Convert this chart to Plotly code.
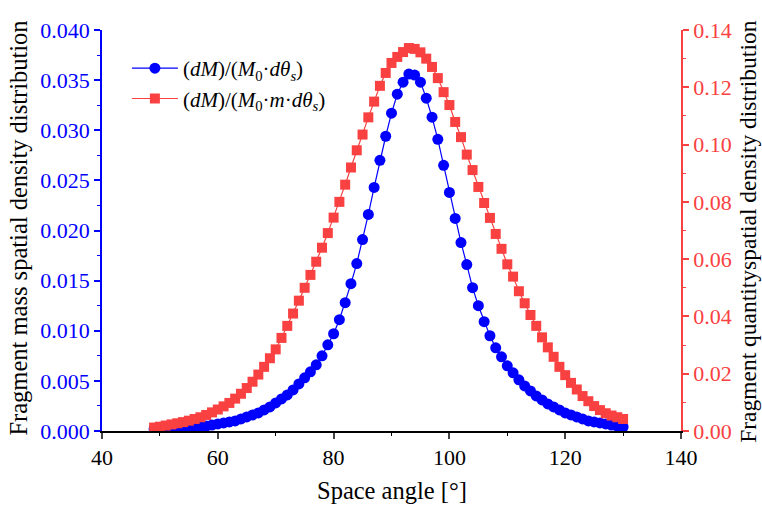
import plotly.graph_objects as go

# Space angle (degrees)
angle_mass = list(range(49, 131))
mass_density = [
    0.0002, 0.0002, 0.0002, 0.0003, 0.0003, 0.0003, 0.0004, 0.0004, 0.0005, 0.0005,   # 49-58
    0.0006, 0.0007, 0.0008, 0.0009, 0.0010, 0.0012, 0.0014, 0.0016, 0.0018, 0.0021,   # 59-68
    0.0024, 0.0028, 0.0032, 0.0036, 0.0041, 0.0047, 0.0053, 0.0059, 0.0066, 0.0075,   # 69-78
    0.0086, 0.0097, 0.0111, 0.0128, 0.0147, 0.0167, 0.0191, 0.0216, 0.0243, 0.0270,   # 79-88
    0.0294, 0.0317, 0.0336, 0.0348, 0.0356, 0.0355, 0.0348, 0.0332, 0.0313, 0.0291,   # 89-98
    0.0265, 0.0238, 0.0212, 0.0188, 0.0166, 0.0143, 0.0125, 0.0109, 0.0095, 0.0083,   # 99-108
    0.0074, 0.0065, 0.0058, 0.0051, 0.0045, 0.0040, 0.0035, 0.0031, 0.0027, 0.0024,   # 109-118
    0.0021, 0.0018, 0.0016, 0.0014, 0.0012, 0.0010, 0.0009, 0.0008, 0.0007, 0.0006,   # 119-128
    0.0005, 0.0004,                                                                   # 129-130
]

angle_quantity = list(range(49, 131))
quantity_density = [
    0.0012, 0.0015, 0.0019, 0.0023, 0.0027, 0.0031, 0.0036, 0.0042, 0.0048, 0.0056,   # 49-58
    0.0065, 0.0075, 0.0086, 0.0098, 0.0113, 0.0130, 0.0150, 0.0172, 0.0197, 0.0224,   # 59-68
    0.0254, 0.0285, 0.0325, 0.0367, 0.0410, 0.0455, 0.0500, 0.0545, 0.0591, 0.0640,   # 69-78
    0.0691, 0.0745, 0.0800, 0.0860, 0.0920, 0.0980, 0.1035, 0.1095, 0.1150, 0.1205,   # 79-88
    0.1250, 0.1285, 0.1306, 0.1323, 0.1337, 0.1334, 0.1322, 0.1300, 0.1271, 0.1232,   # 89-98
    0.1183, 0.1138, 0.1079, 0.1026, 0.0965, 0.0911, 0.0852, 0.0796, 0.0744, 0.0688,   # 99-108
    0.0636, 0.0582, 0.0539, 0.0488, 0.0446, 0.0405, 0.0367, 0.0327, 0.0292, 0.0259,   # 109-118
    0.0224, 0.0195, 0.0168, 0.0145, 0.0122, 0.0104, 0.0087, 0.0073, 0.0062, 0.0054,   # 119-128
    0.0048, 0.0042,                                                                   # 129-130
]

x_ticks = [40, 60, 80, 100, 120, 140]
left_ticks = [0.000, 0.005, 0.010, 0.015, 0.020, 0.025, 0.030, 0.035, 0.040]
right_ticks = [0.00, 0.02, 0.04, 0.06, 0.08, 0.10, 0.12, 0.14]

x_title = "Space angle [°]"
left_title = "Fragment mass spatial density distribution"
right_title = "Fragment quantityspatial density distribution"

BLUE = "#0000FF"
RED = "#F94141"
FONT = "Liberation Serif, Times New Roman, serif"
TICK_SIZE = 22
TITLE_SIZE = 24.5

fig = go.Figure()
fig.add_trace(go.Scatter(
    x=angle_mass, y=mass_density, mode="lines+markers",
    name="(<i>dM</i>)/(<i>M</i><sub>0</sub>·<i>dθ<sub>s</sub></i>)",
    line=dict(color=BLUE, width=1.2),
    marker=dict(symbol="circle", size=11, color=BLUE),
    yaxis="y",
))
fig.add_trace(go.Scatter(
    x=angle_quantity, y=quantity_density, mode="lines+markers",
    name="(<i>dM</i>)/(<i>M</i><sub>0</sub>·<i>m</i>·<i>dθ<sub>s</sub></i>)",
    line=dict(color=RED, width=1.2),
    marker=dict(symbol="square", size=10, color=RED),
    yaxis="y2",
))

fig.update_layout(
    width=762, height=505,
    margin=dict(l=102, r=81, t=30, b=74, autoexpand=False),
    paper_bgcolor="white", plot_bgcolor="white",
    font=dict(family=FONT, size=TICK_SIZE, color="black"),
    showlegend=True,
    legend=dict(x=0.043, y=0.955, xanchor="left", yanchor="top",
                bgcolor="rgba(0,0,0,0)", font=dict(size=21, family=FONT, color="black"),
                tracegroupgap=0, itemwidth=46),
    xaxis=dict(
        range=[40, 140], tickvals=x_ticks, ticks="outside", ticklen=6, tickwidth=1.5,
        showline=True, linecolor="black", linewidth=1.5, showgrid=False, zeroline=False,
        tickfont=dict(size=TICK_SIZE, family=FONT, color="black"), automargin=False,
        minor=dict(dtick=10, tick0=40, ticks="outside", ticklen=3, tickwidth=1.2, tickcolor="black"),
    ),
    yaxis=dict(
        range=[0, 0.040], tickvals=left_ticks, tickformat=".3f", ticks="outside",
        ticklen=6, tickwidth=1.5, tickcolor=BLUE, automargin=False,
        showline=True, linecolor=BLUE, linewidth=1.5, showgrid=False, zeroline=False,
        tickfont=dict(size=TICK_SIZE, family=FONT, color=BLUE),
        minor=dict(dtick=0.0025, tick0=0, ticks="outside", ticklen=3, tickwidth=1.2, tickcolor=BLUE),
    ),
    yaxis2=dict(
        range=[0, 0.14], tickvals=right_ticks, tickformat=".2f", ticks="outside",
        overlaying="y", side="right", automargin=False,
        ticklen=6, tickwidth=1.5, tickcolor=RED,
        showline=True, linecolor=RED, linewidth=1.5, showgrid=False, zeroline=False,
        tickfont=dict(size=TICK_SIZE, family=FONT, color=RED),
        minor=dict(dtick=0.01, tick0=0, ticks="outside", ticklen=3, tickwidth=1.2, tickcolor=RED),
    ),
    annotations=[
        dict(text=x_title, xref="paper", yref="paper", x=0.5, y=-0.148,
             xanchor="center", yanchor="middle", showarrow=False,
             font=dict(size=TITLE_SIZE, family=FONT, color="black")),
        dict(text=left_title, xref="paper", yref="paper", x=-0.145, y=0.505,
             xanchor="center", yanchor="middle", showarrow=False, textangle=-90,
             font=dict(size=TITLE_SIZE, family=FONT, color="black")),
        dict(text=right_title, xref="paper", yref="paper", x=1.116, y=0.497,
             xanchor="center", yanchor="middle", showarrow=False, textangle=-90,
             font=dict(size=23.5, family=FONT, color="black")),
    ],
)

fig.write_html("out.html",
               config={"displayModeBar": False},
               post_script="document.body.style.margin='0px';document.body.style.padding='0px';")
